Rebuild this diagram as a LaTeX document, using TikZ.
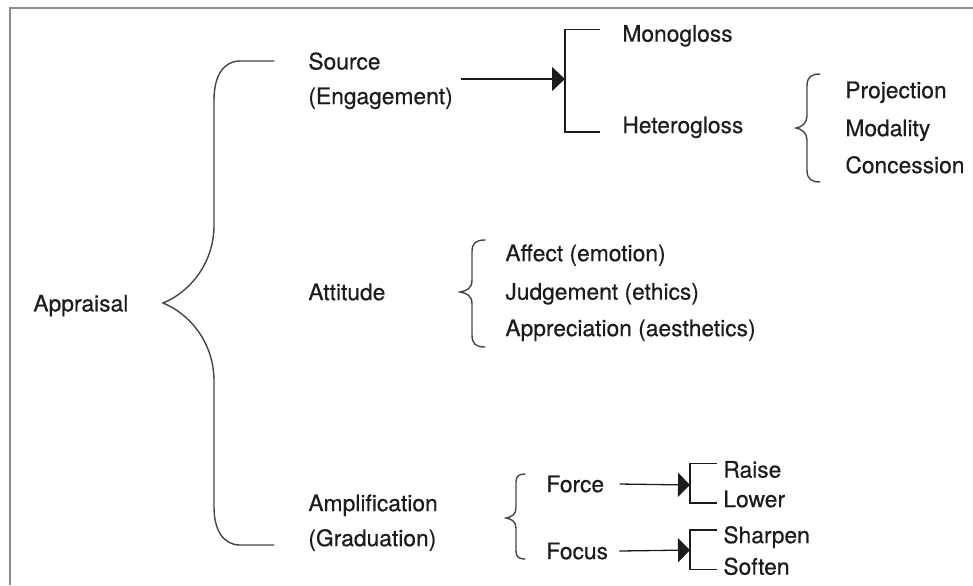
\documentclass[tikz,border=0pt]{standalone}
\usepackage{fontspec}
\setmainfont{TeX Gyre Heros}[FakeBold=0.4]
\usetikzlibrary{arrows.meta}
\definecolor{ink}{HTML}{1E1B1C}
\definecolor{bracegray}{HTML}{454545}
\definecolor{framegray}{HTML}{8C8C8C}
\begin{document}
\begin{tikzpicture}[x=0.5pt,y=-0.5pt,
  lbl/.style={anchor=west, inner sep=0pt, text=ink,
    font=\fontsize{11.4}{13.7}\selectfont, text height=8.15pt, text depth=0pt},
  bracepath/.style={draw=bracegray, line width=0.7pt, line cap=round},
  fork/.style={draw=ink, line width=0.65pt},
  arr/.style={draw=ink, line width=0.65pt, -{Triangle[length=6.5pt,width=12pt]}},
  smallarr/.style={draw=ink, line width=0.65pt, -{Triangle[length=6pt,width=12pt]}},
  frameline/.style={draw=framegray, line width=0.65pt}]
\useasboundingbox (0,0) rectangle (973,585);

% outer frame (left and top edges)
\draw[frameline] (10,585) -- (10,8) -- (973,8);

% labels
\node[lbl] (app) at (33,303.3) {Appraisal};
\node[lbl] (src1) at (308,61.3) {Source};
\node[lbl] (src2) at (308,96) {(Engagement)};
\node[lbl] (mono) at (622,33.5) {Monogloss};
\node[lbl] (hetero) at (622,125) {Heterogloss};
\node[lbl] (proj) at (845,90) {Projection};
\node[lbl] (moda) at (845,128) {Modality};
\node[lbl] (conc) at (845,165) {Concession};
\node[lbl] (att) at (308,292) {Attitude};
\node[lbl] (aff) at (505,253) {Affect (emotion)};
\node[lbl] (judg) at (505,291.5) {Judgement (ethics)};
\node[lbl] (appr) at (505,328) {Appreciation (aesthetics)};
\node[lbl] (amp1) at (308,503) {Amplification};
\node[lbl] (amp2) at (308,538) {(Graduation)};
\node[lbl] (force) at (546,484) {Force};
\node[lbl] (focus) at (546,551) {Focus};
\node[lbl] (raise) at (723,469.5) {Raise};
\node[lbl] (lower) at (723,499) {Lower};
\node[lbl] (sharpen) at (723,535) {Sharpen};
\node[lbl] (soften) at (723,566.5) {Soften};

% fork points
\coordinate (engfork) at (565,79);
\coordinate (forcefork) at (690,485);
\coordinate (focusfork) at (690,550);

% main brace
\draw[bracepath] (274,61) -- (240,61) .. controls (224,61) and (214,75) .. (214,100)
  -- (214,225) .. controls (214,265) and (188,293) .. (163,303)
  .. controls (188,313) and (214,341) .. (214,381)
  -- (214,507) .. controls (214,531) and (224,545) .. (240,545) -- (274,545);

% Heterogloss brace
\draw[bracepath] (820,74) .. controls (811,74) and (807,77) .. (807,86)
  -- (807,116) .. controls (807,123) and (802,127) .. (796,128)
  .. controls (802,129) and (807,133) .. (807,140)
  -- (807,170) .. controls (807,179) and (811,182) .. (820,182);

% Attitude brace
\draw[bracepath] (485,240) .. controls (476,240) and (472,243) .. (472,252)
  -- (472,280) .. controls (472,288) and (467,291) .. (460,292)
  .. controls (467,293) and (472,296) .. (472,304)
  -- (472,335) .. controls (472,344) and (476,347) .. (485,347);

% Amplification brace
\draw[bracepath] (525,474) .. controls (519,474) and (516,476) .. (516,482)
  -- (516,508) .. controls (516,514) and (512,517) .. (506,518)
  .. controls (512,519) and (516,522) .. (516,528)
  -- (516,551) .. controls (516,557) and (519,559) .. (525,559);

% arrows into the forks
\draw[arr] ([xshift=4pt]src2.east |- engfork) -- (engfork);
\draw[smallarr] ([xshift=7.5pt]force.east) -- (forcefork);
\draw[smallarr] ([xshift=5.5pt]focus.east) -- (focusfork);

% forks
\draw[fork] ([shift={(-22,-4)}]mono.west) -| (engfork) |- ([shift={(-22,7)}]hetero.west);
\draw[fork] ([shift={(-6,-6)}]raise.west) -| (forcefork) |- ([shift={(-6,4)}]lower.west);
\draw[fork] ([shift={(-6,-5)}]sharpen.west) -| (focusfork) |- ([shift={(-6,3)}]soften.west);
\end{tikzpicture}
\end{document}
